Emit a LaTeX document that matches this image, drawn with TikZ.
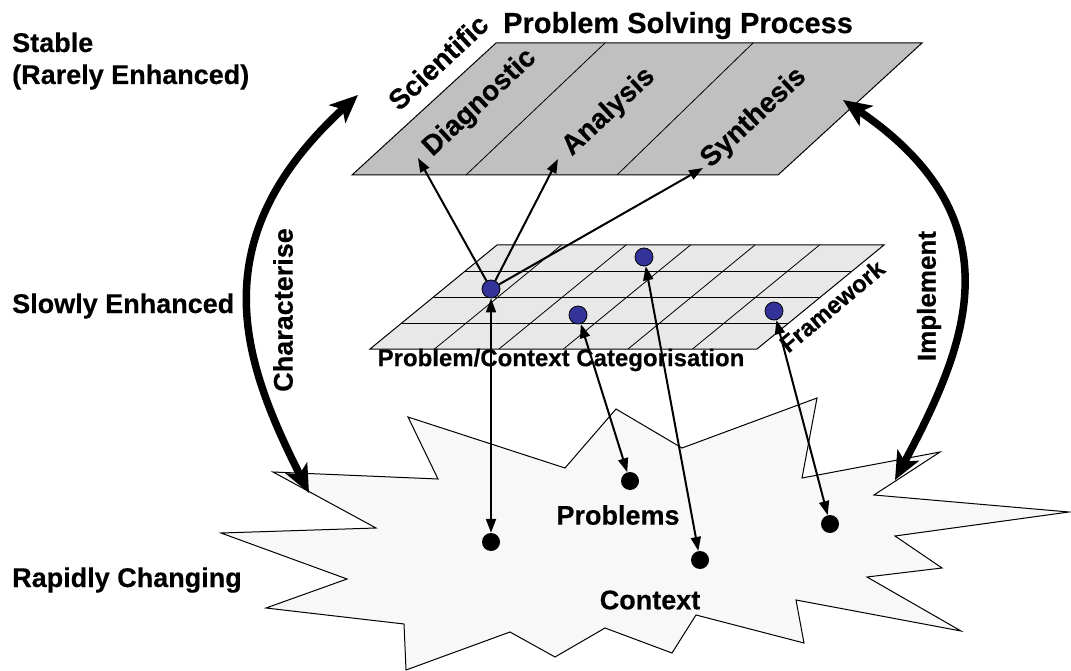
\documentclass[tikz,border=0pt]{standalone}
\usepackage{fontspec}
\setmainfont{Liberation Sans}[BoldFeatures={FakeBold=0.4}]
\usetikzlibrary{arrows.meta}
\definecolor{planegray}{RGB}{192,192,192}
\definecolor{gridgray}{RGB}{232,232,232}
\definecolor{burstfill}{RGB}{248,248,248}
\definecolor{dotblue}{RGB}{51,51,153}
\begin{document}
\begin{tikzpicture}[x=1pt,y=-1pt,
  lbl/.style={font=\fontsize{27}{31}\selectfont\bfseries, inner sep=0pt},
  smalllbl/.style={font=\fontsize{24}{28}\selectfont\bfseries, inner sep=0pt},
  sidelbl/.style={lbl, anchor=base west},
  planelbl/.style={font=\fontsize{28}{32}\selectfont\bfseries, inner sep=0pt, rotate=43},
  bluedot/.style={circle, draw=black, line width=0.8pt, fill=dotblue, minimum size=18pt, inner sep=0pt},
  blackdot/.style={circle, fill=black, minimum size=18pt, inner sep=0pt},
  thin arrow/.style={line width=2pt, -{Triangle[length=14pt,width=10pt]}},
  link arrow/.style={line width=2pt, {Triangle[length=14pt,width=10pt]}-{Triangle[length=14pt,width=10pt]}},
  big arrow/.style={line width=7.5pt, {Stealth[length=28pt,width=24pt,inset=7pt]}-{Stealth[length=28pt,width=24pt,inset=7pt]}},
  outline/.style={draw=black, line width=1pt}
]
\useasboundingbox (0,0) rectangle (1071,671);

% ---- process plane (top) ----
\path[outline, fill=planegray] (352,175) -- (496,43) -- (922,43) -- (778,175) -- cycle;
\draw[line width=0.8pt] (466,175) -- (605,43);
\draw[line width=0.8pt] (617,175) -- (753,43);
\node[font=\fontsize{29}{33}\selectfont\bfseries, inner sep=0pt, anchor=base west] (psp) at (503,33) {Problem Solving Process};
\node[planelbl] (sci) at (438,62) {Scientific};
\node[planelbl] (diag) at (480,103) {Diagnostic};
\node[planelbl] (ana) at (609,112) {Analysis};
\node[planelbl] (syn) at (754,118) {Synthesis};
\coordinate (diagTip) at (418,158);
\coordinate (anaTip) at (558,159);
\coordinate (synTip) at (703,168);

% ---- categorisation grid (middle) ----
\path[outline, fill=gridgray] (370,349) -- (497,245) -- (884,245) -- (757,349) -- cycle;
\foreach \k in {1,2,3}
  \draw[line width=0.8pt] ({370+127*\k/4},{349-26*\k}) -- ({757+127*\k/4},{349-26*\k});
\foreach \c in {1,...,5}
  \draw[line width=0.8pt] ({370+64.5*\c},349) -- ({497+64.5*\c},245);
\node[smalllbl] (pcc) at (561,360) {Problem/Context Categorisation};
\node[font=\fontsize{24}{28}\selectfont\bfseries, inner sep=0pt, rotate=40] (fw) at (832,306) {Framework};

% ---- rapidly changing world (bottom) ----
\path[outline, fill=burstfill]
  (273,472) -- (438,479) -- (408,417) -- (565,468) -- (616,409) -- (682,448)
  -- (817,398) -- (802,478) -- (940,452) -- (874,495) -- (1069,512) -- (895,536)
  -- (942,568) -- (867,577) -- (961,631) -- (796,600) -- (804,643) -- (696,615)
  -- (672,653) -- (605,628) -- (555,657) -- (510,632) -- (406,670) -- (404,624)
  -- (266,608) -- (347,579) -- (221,533) -- (376,528) -- cycle;
\node[lbl] (problems) at (618,515) {Problems};
\node[lbl] (context) at (650,600) {Context};

% ---- level labels ----
\node[sidelbl] (stable) at (12,52) {Stable};
\node[sidelbl] (rarely) at (12,84) {(Rarely Enhanced)};
\node[sidelbl] (slowly) at (12,313) {Slowly Enhanced};
\node[sidelbl] (rapidly) at (12,587) {Rapidly Changing};

% ---- dots ----
\node[bluedot] (b1) at (491,289) {};
\node[bluedot] (b2) at (644,257) {};
\node[bluedot] (b3) at (578,315) {};
\node[bluedot] (b4) at (774,311) {};
\node[blackdot] (k1) at (491,542) {};
\node[blackdot] (k2) at (630,481) {};
\node[blackdot] (k3) at (700,560) {};
\node[blackdot] (k4) at (830,524) {};

% ---- connectors ----
\draw[thin arrow] (b1) -- (diagTip);
\draw[thin arrow] (b1) -- (anaTip);
\draw[thin arrow] (b1) -- (synTip);
\draw[link arrow] (b1) -- (k1);
\draw[link arrow] (b3) -- (k2);
\draw[link arrow] (b2) -- (k3);
\draw[link arrow] (b4) -- (k4);

% ---- characterise / implement ----
\coordinate (charTop) at (358,95);
\coordinate (charBot) at (309,493);
\coordinate (implTop) at (843,100);
\coordinate (implBot) at (895,480);
\draw[big arrow] (charTop) .. controls (200,240) and (242,360) .. (charBot);
\draw[big arrow] (implTop) .. controls (1022,222) and (964,350) .. (implBot);
\node[font=\fontsize{27}{31}\selectfont\bfseries, inner sep=0pt, rotate=90] (charLbl) at (283,310) {Characterise};
\node[font=\fontsize{26}{30}\selectfont\bfseries, inner sep=0pt, rotate=90] (implLbl) at (929,296) {Implement};
\end{tikzpicture}
\end{document}
